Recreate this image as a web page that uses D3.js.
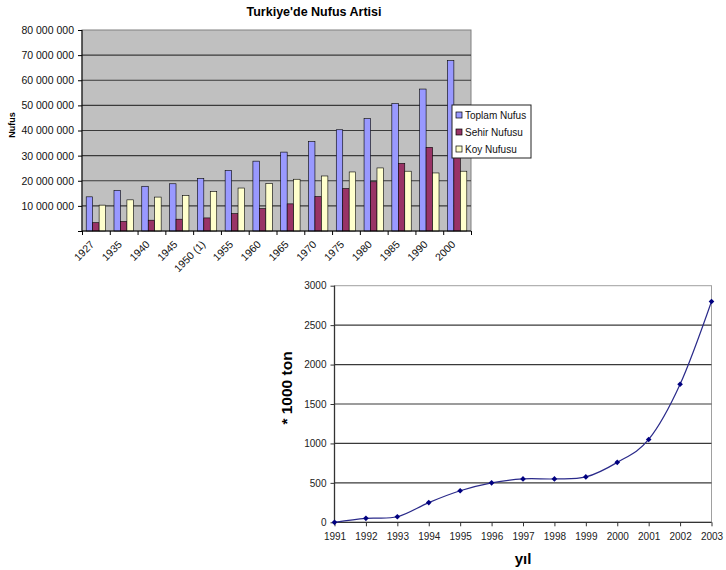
<!DOCTYPE html>
<html>
<head>
<meta charset="utf-8">
<script src="https://cdn.jsdelivr.net/npm/d3@7"></script>
<style>
  body { margin: 0; background: #fff; }
  svg { font-family: "Liberation Sans", Arial, sans-serif; }
</style>
</head>
<body>
<div id="chart"></div>
<script>
// bar chart data (population by census year)
var years = ["1927", "1935", "1940", "1945", "1950 (1)", "1955", "1960", "1965", "1970", "1975", "1980", "1985", "1990", "2000"];
var seriesNames = ["Toplam Nufus", "Sehir Nufusu", "Koy Nufusu"];
var toplam = [13.6, 16.2, 17.8, 18.8, 20.9, 24.1, 27.8, 31.4, 35.6, 40.3, 44.7, 50.7, 56.5, 67.8];
var sehir = [3.3, 3.8, 4.3, 4.7, 5.2, 6.9, 8.9, 10.8, 13.7, 16.9, 19.6, 26.9, 33.3, 44.0];
var koy = [10.3, 12.4, 13.5, 14.1, 15.7, 17.1, 18.9, 20.6, 21.9, 23.5, 25.1, 23.8, 23.1, 23.8];
var popTicks = [0, 10e6, 20e6, 30e6, 40e6, 50e6, 60e6, 70e6, 80e6];

// line chart data
var years2 = ["1991", "1992", "1993", "1994", "1995", "1996", "1997", "1998", "1999", "2000", "2001", "2002", "2003"];
var tons = [0, 50, 70, 250, 400, 500, 550, 550, 575, 760, 1050, 1750, 2800];
var tonTicks = [0, 500, 1000, 1500, 2000, 2500, 3000];

var colors = ["#9999FF", "#993366", "#FFFFCC"];

var svg = d3.select("#chart")
    .append("svg")
    .attr("width", 726)
    .attr("height", 570);

// ---------- top: grouped bars ----------
var barBox = { left: 82, right: 471, top: 30, bottom: 231 };

var rows = years.map(function (y, i) {
    return { year: y, values: [toplam[i] * 1e6, sehir[i] * 1e6, koy[i] * 1e6] };
});

var x0 = d3.scaleBand()
    .domain(years)
    .range([barBox.left, barBox.right]);

var x1 = d3.scaleBand()
    .domain([0, 1, 2])
    .range([0, x0.bandwidth()])
    .paddingOuter(0.65);

var yPop = d3.scaleLinear()
    .domain([0, 80e6])
    .range([barBox.bottom, barBox.top]);

var spaced = d3.formatLocale({ decimal: ",", thousands: " ", grouping: [3], currency: ["", ""] }).format(",");

var barGroup = svg.append("g");

barGroup.append("rect")
    .attr("x", barBox.left)
    .attr("y", barBox.top)
    .attr("width", barBox.right - barBox.left)
    .attr("height", barBox.bottom - barBox.top)
    .attr("fill", "#c0c0c0")
    .attr("stroke", "#808080");

barGroup.selectAll(".grid")
    .data(popTicks.slice(1, -1))
    .enter()
    .append("line")
    .attr("x1", barBox.left)
    .attr("x2", barBox.right)
    .attr("y1", d => yPop(d))
    .attr("y2", d => yPop(d))
    .attr("stroke", "#3a3a3a")
    .attr("stroke-width", 1.2);

barGroup.selectAll(".cat")
    .data(rows)
    .enter()
    .append("g")
    .attr("transform", d => `translate(${x0(d.year)},0)`)
    .selectAll("rect")
    .data(d => d.values)
    .enter()
    .append("rect")
    .attr("x", (d, i) => x1(i))
    .attr("y", d => yPop(d))
    .attr("width", x1.bandwidth())
    .attr("height", d => barBox.bottom - yPop(d))
    .attr("fill", (d, i) => colors[i])
    .attr("stroke", "#000")
    .attr("stroke-width", 0.6);

var leftAxis = d3.axisLeft(yPop)
    .tickValues(popTicks)
    .tickSize(4)
    .tickFormat(d => d === 0 ? "" : spaced(d));

barGroup.append("g")
    .attr("transform", `translate(${barBox.left},0)`)
    .call(leftAxis)
    .call(g => g.selectAll("text").attr("font-size", "10.5px").attr("fill", "#111").attr("x", -8))
    .call(g => g.selectAll("line,path").attr("stroke", "#000"))
    .call(g => g.select(".domain").attr("d", `M0,${barBox.top}V${barBox.bottom}`));

// bottom axis: ticks between categories
var xEdge = d3.scaleLinear().domain([0, years.length]).range([barBox.left, barBox.right]);
barGroup.append("g")
    .attr("transform", `translate(0,${barBox.bottom})`)
    .call(d3.axisBottom(xEdge).tickValues(d3.range(years.length + 1)).tickSize(4).tickFormat(""))
    .call(g => g.selectAll("line,path").attr("stroke", "#000"))
    .call(g => g.select(".domain").attr("d", `M${barBox.left},0H${barBox.right}`));

barGroup.selectAll(".xlab")
    .data(years)
    .enter()
    .append("text")
    .attr("transform", d => `translate(${x0(d) + x0.bandwidth() / 2 - 1},245) rotate(-45)`)
    .attr("text-anchor", "end")
    .attr("font-size", "10.5px")
    .attr("fill", "#111")
    .text(d => d);

svg.append("text")
    .attr("x", 314)
    .attr("y", 16)
    .attr("text-anchor", "middle")
    .attr("font-size", "12.5px")
    .attr("font-weight", "bold")
    .text("Turkiye'de Nufus Artisi");

svg.append("text")
    .attr("transform", "translate(15,125) rotate(-90)")
    .attr("text-anchor", "middle")
    .attr("font-size", "9px")
    .attr("font-weight", "bold")
    .text("Nufus");

// legend
var legend = svg.append("g");
legend.append("rect")
    .attr("x", 452)
    .attr("y", 105)
    .attr("width", 79)
    .attr("height", 53)
    .attr("fill", "#fff")
    .attr("stroke", "#222");

var items = legend.selectAll(".item")
    .data(seriesNames)
    .enter()
    .append("g")
    .attr("transform", (d, i) => `translate(456,${115 + i * 17})`);

items.append("rect")
    .attr("x", 0)
    .attr("y", -3)
    .attr("width", 6)
    .attr("height", 6)
    .attr("fill", (d, i) => colors[i])
    .attr("stroke", "#000")
    .attr("stroke-width", 0.7);

items.append("text")
    .attr("x", 9)
    .attr("y", 3.5)
    .attr("font-size", "10px")
    .attr("fill", "#111")
    .text(d => d);

// ---------- bottom: smoothed line ----------
var lineBox = { left: 334.5, right: 711.5, top: 285.7, bottom: 522.3 };

var xYear = d3.scalePoint()
    .domain(years2)
    .range([lineBox.left, lineBox.right]);

var yTon = d3.scaleLinear()
    .domain([0, 3000])
    .range([lineBox.bottom, lineBox.top]);

var lineGroup = svg.append("g");

lineGroup.append("rect")
    .attr("x", lineBox.left)
    .attr("y", lineBox.top)
    .attr("width", lineBox.right - lineBox.left)
    .attr("height", lineBox.bottom - lineBox.top)
    .attr("fill", "#fff")
    .attr("stroke", "#a0a0a0");

lineGroup.selectAll(".grid")
    .data(tonTicks.slice(1, -1))
    .enter()
    .append("line")
    .attr("x1", lineBox.left)
    .attr("x2", lineBox.right)
    .attr("y1", d => yTon(d))
    .attr("y2", d => yTon(d))
    .attr("stroke", "#3a3a3a")
    .attr("stroke-width", 1.2);

lineGroup.append("g")
    .attr("transform", `translate(${lineBox.left},0)`)
    .call(d3.axisLeft(yTon).tickValues(tonTicks).tickSize(4).tickFormat(d3.format("d")))
    .call(g => g.selectAll("text").attr("font-size", "10px").attr("fill", "#222").attr("x", -8))
    .call(g => g.selectAll("line,path").attr("stroke", "#333"))
    .call(g => g.select(".domain").attr("d", `M0,${lineBox.top}V${lineBox.bottom}`).attr("stroke-width", 1.3));

lineGroup.append("g")
    .attr("transform", `translate(0,${lineBox.bottom})`)
    .call(d3.axisBottom(xYear).tickSize(4).tickPadding(7))
    .call(g => g.selectAll("text").attr("font-size", "10px").attr("fill", "#222"))
    .call(g => g.selectAll("line,path").attr("stroke", "#333"))
    .call(g => g.select(".domain").attr("d", `M${lineBox.left},0H${lineBox.right}`).attr("stroke-width", 1.3));

var pts = years2.map((y, i) => ({ year: y, value: tons[i] }));

var line = d3.line()
    .x(d => xYear(d.year))
    .y(d => yTon(d.value))
    .curve(d3.curveCardinal.tension(0));

lineGroup.append("path")
    .datum(pts)
    .attr("d", line)
    .attr("fill", "none")
    .attr("stroke", "#2a2a8a")
    .attr("stroke-width", 1.2);

lineGroup.selectAll(".marker")
    .data(pts)
    .enter()
    .append("path")
    .attr("d", d3.symbol(d3.symbolSquare, 16))
    .attr("transform", d => `translate(${xYear(d.year)},${yTon(d.value)}) rotate(45)`)
    .attr("fill", "#000080");

svg.append("text")
    .attr("x", 523)
    .attr("y", 564)
    .attr("text-anchor", "middle")
    .attr("font-size", "15px")
    .attr("font-weight", "bold")
    .text("yıl");

svg.append("text")
    .attr("transform", "translate(292,388) rotate(-90)")
    .attr("text-anchor", "middle")
    .attr("font-size", "15.5px")
    .attr("font-weight", "bold")
    .text("* 1000 ton");
</script>
</body>
</html>
